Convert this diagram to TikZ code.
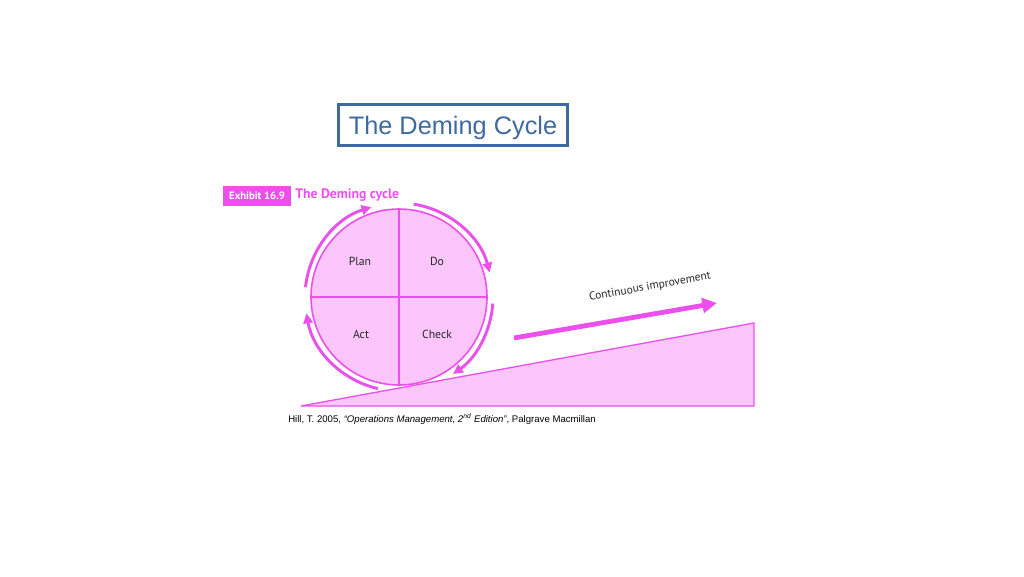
\documentclass[tikz,border=0pt]{standalone}
\usepackage{fontspec}
\setmainfont{Liberation Sans}
\newfontfamily\exfont{PT Sans}
\usetikzlibrary{arrows.meta}

\definecolor{pinkline}{RGB}{236,80,236}
\definecolor{pinkfill}{RGB}{252,198,252}
\definecolor{titleblue}{RGB}{62,106,158}

\tikzset{
  cyclearrow/.style={pinkline,line width=2.2pt,-{Triangle[length=7.5pt,width=7pt]}},
  quadlabel/.style={font=\exfont\fontsize{8.8}{10}\selectfont,text=black!85},
}

\begin{document}
\begin{tikzpicture}[x=0.75pt,y=0.75pt,yscale=-1]
%set diagram size to the slide
\useasboundingbox (0,0) rectangle (1024,576);

% Title box
\node [draw=titleblue,line width=2.2pt,text=titleblue,minimum width=172pt,minimum height=30.5pt,inner sep=0pt,font=\fontsize{19}{22}\selectfont] (title) at (453,125) {\raisebox{-6.8pt}[0pt][0pt]{The Deming Cycle}};

% Exhibit heading
\node [fill=pinkline,text=white,minimum width=51pt,minimum height=15pt,inner sep=0pt,font=\exfont\bfseries\fontsize{8}{10}\selectfont] (exhibit) at (257,196) {Exhibit 16.9};
\node [anchor=west,text=pinkline,inner sep=0pt,font=\exfont\bfseries\fontsize{10.3}{12}\selectfont] (extitle) at (295,195) {The Deming cycle};

% Ramp
\coordinate (rampL) at (301,406);
\coordinate (rampT) at (754,323);
\coordinate (rampB) at (754,406);
\draw [pinkline,line width=1pt,fill=pinkfill] (rampL) -- (rampT) -- (rampB) -- cycle;

% Wheel
\node [circle,draw=pinkline,line width=1.2pt,fill=pinkfill,minimum size=132pt,inner sep=0pt] (wheel) at (399,297) {};
\draw [pinkline,line width=1.2pt] (wheel.north) -- (wheel.south);
\draw [pinkline,line width=1.2pt] (wheel.west) -- (wheel.east);

% Quadrant labels
\node [quadlabel] (plan) at (360,261) {Plan};
\node [quadlabel] (do) at (437,261) {Do};
\node [quadlabel] (act) at (361,334) {Act};
\node [quadlabel] (check) at (437,334) {Check};

% Arrows round the wheel
\draw [cyclearrow] (wheel.center) ++(-174:94) arc [start angle=-174,end angle=-107,radius=94];
\draw [cyclearrow] (wheel.center) ++(-81:94) arc [start angle=-81,end angle=-15,radius=94];
\draw [cyclearrow] (wheel.center) ++(4:94) arc [start angle=4,end angle=55,radius=94];
\draw [cyclearrow] (wheel.center) ++(-257:94) arc [start angle=-257,end angle=-190,radius=94];

% Continuous improvement arrow
\coordinate (impStart) at (514,338);
\coordinate (impEnd) at (717,303);
\draw [pinkline,line width=3.6pt,-{Triangle[length=11pt,width=11pt]}] (impStart) -- (impEnd);
\node [rotate=10,font=\exfont\fontsize{8.6}{10}\selectfont,text=black!85] (improve) at (650,287) {Continuous improvement};

% Source
\node [anchor=west,inner sep=0pt,font=\fontsize{7.2}{8}\selectfont] (source) at (288,419) {Hill, T. 2005, \textit{``Operations Management, 2\textsuperscript{nd} Edition''}, Palgrave Macmillan};

\end{tikzpicture}
\end{document}
